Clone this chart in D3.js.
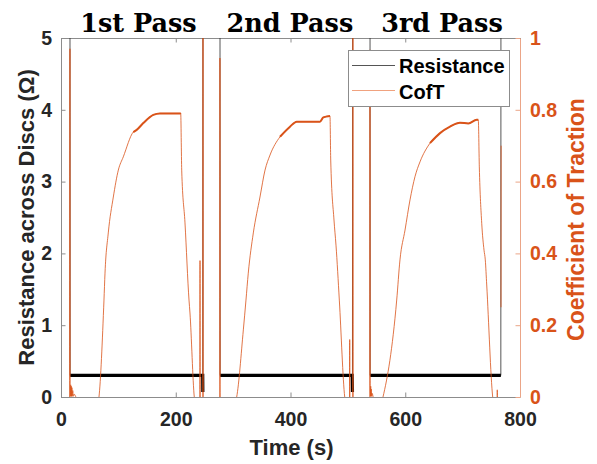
<!DOCTYPE html>
<html>
<head>
<meta charset="utf-8">
<script src="https://cdn.jsdelivr.net/npm/d3@7"></script>
<style>
    body { margin: 0; background: #ffffff; }
    svg { display: block; font-family: "Liberation Sans", Arial, sans-serif; }
    .tick text { font-weight: bold; font-size: 19.5px; }
    .label { font-weight: bold; font-size: 22px; }
    .title { font-family: "DejaVu Serif", serif; font-weight: bold; font-size: 25.5px; }
    .legend text { font-weight: bold; font-size: 20px; }
</style>
</head>
<body>
<svg id="chart" width="597" height="464"></svg>
<script>
// resistance across the discs (ohm), values above 5 run off the top
const resTime = [15.5, 15.9, 247.0, 247.2, 247.5, 277.0, 277.3, 507.5, 508.0, 508.5, 538.5, 538.8, 766.6, 766.9];
const resValue = [9, 0.3, 0.3, 0.07, 9, 9, 0.3, 0.3, 0.07, 9, 9, 0.3, 0.3, 9];

// coefficient of traction, null = no sample
const cofTime = [
    15.0, 15.6, 15.9, 16.4, 16.9, 17.4, 17.9, 18.4, 19.0, 19.6, 20.5, 21.5, 23.0, 26.0, 30.0, 45.0, 62.0,
    66.2, 74.9, 76.7, 82.4, 91.2, 99.9, 108.6, 126.0, 131.9, 143.4, 160.9, 172.5, 207.4, 208.6,
    210.4, 216.1, 223.1, 224.8, 232.3, 236.0, 242.0, 242.3, 242.6, 247.2, 247.5, 247.8,
    276.8, 277.0, 277.3, 300.0,
    306.2, 317.8, 322.4, 326.4, 335.2, 346.8, 355.6, 364.3, 381.7, 399.1, 410.8, 451.4, 457.2, 468.8,
    470.1, 475.8, 479.3, 485.1, 494.5, 498.0, 503.0, 503.2, 503.4, 508.5, 508.8, 509.1,
    538.2, 538.5, 538.8, 539.3, 539.8, 540.3, 540.8, 541.5, 542.5, 544.0, 548.0, 556.0,
    561.2, 585.1, 590.8, 599.6, 608.3, 617.0, 625.7, 643.1, 660.6, 678.0, 695.4, 709.9, 724.5, 727.3,
    729.1, 733.3, 737.3, 739.5, 742.0, 752.4, 755.0, 760.2, 760.4, 760.6, 766.5,
    766.7, 766.9, 767.1
];
const cofValue = [
    -0.05, 0.97, 0.035, 0.002, 0.034, 0.002, 0.03, 0.002, 0.026, 0.002, 0.018, 0.002, 0.008, 0.0, -0.01, -0.03, -0.03,
    0.0, 0.27, 0.345, 0.457, 0.557, 0.632, 0.669, 0.738, 0.744, 0.763, 0.786, 0.79, 0.79, 0.791,
    0.632, 0.485, 0.27, 0.234, 0.0, -0.03, -0.03, 0.38, -0.03, -0.03, 1.2, -0.1,
    -0.1, 0.944, -0.03, -0.03,
    0.0, 0.187, 0.27, 0.345, 0.457, 0.557, 0.632, 0.674, 0.725, 0.753, 0.767, 0.767, 0.779, 0.783,
    0.66, 0.493, 0.423, 0.27, 0.0, -0.03, -0.03, 0.16, -0.03, -0.03, 1.2, -0.1,
    -0.1, 0.967, 0.033, 0.002, 0.03, 0.002, 0.022, 0.002, 0.01, 0.0, -0.02, -0.03,
    0.0, 0.27, 0.382, 0.465, 0.549, 0.614, 0.655, 0.707, 0.735, 0.753, 0.764, 0.762, 0.772, 0.772,
    0.641, 0.484, 0.409, 0.382, 0.312, 0.0, -0.03, -0.03, 0.02, -0.03, -0.03,
    null, 0.25, 0.70
];

const seriesNames = ["Resistance", "CofT"];
const passLabels = ["1st Pass", "2nd Pass", "3rd Pass"];
const passLabelTime = [135, 399, 664];
const timeTicks = [0, 200, 400, 600, 800];
const resTicks = [0, 1, 2, 3, 4, 5];
const cofTicks = [0, 0.2, 0.4, 0.6, 0.8, 1];

const attr = {
    plot: { left: 61, top: 38, right: 520, bottom: 397 },
    tick: 4.5,
    black: "#000000",
    axisGrey: "#8c8c8c",
    orange: "#D95319"
};

const translate = function(a, b) {
    return "translate(" + a + ", " + b + ")";
};

const svg = d3.select("#chart");
const p = attr.plot;

const x = d3.scaleLinear().domain([0, 800]).range([p.left, p.right]);
const yRes = d3.scaleLinear().domain([0, 5]).range([p.bottom, p.top]);
const yCof = d3.scaleLinear().domain([0, 1]).range([p.bottom, p.top]);

const resData = resTime.map((t, i) => ({ t: t, v: resValue[i] }));
const cofData = cofTime.map((t, i) => ({ t: t, v: cofValue[i] }));

svg.append("clipPath")
    .attr("id", "clip")
    .append("rect")
    .attr("x", p.left)
    .attr("y", p.top)
    .attr("width", p.right - p.left)
    .attr("height", p.bottom - p.top);

// box top line
svg.append("line")
    .attr("x1", p.left)
    .attr("x2", p.right)
    .attr("y1", p.top + 0.5)
    .attr("y2", p.top + 0.5)
    .style("stroke", attr.axisGrey);

const plot = svg.append("g").attr("clip-path", "url(#clip)");

const resLine = d3.line().x(d => x(d.t)).y(d => yRes(d.v));

plot.append("path")
    .attr("d", resLine(resData))
    .style("fill", "none")
    .style("stroke", "#2a2a2a")
    .style("stroke-width", 0.8);

// noisy plateau reads as a thick band
plot.append("path")
    .attr("d", resLine.defined(d => d.v < 1)(resData))
    .style("fill", "none")
    .style("stroke", attr.black)
    .style("stroke-width", 3.2);

const cofLine = d3
    .line()
    .defined(d => d.v !== null)
    .curve(d3.curveMonotoneX)
    .x(d => x(d.t))
    .y(d => yCof(d.v));

plot.append("path")
    .attr("d", cofLine(cofData))
    .style("fill", "none")
    .style("stroke", attr.orange)
    .style("stroke-opacity", 0.8)
    .style("stroke-width", 1)
    .style("stroke-linejoin", "round");

// the slow, noisy top of each pass looks heavier
plot.append("path")
    .attr("d", cofLine.defined(d => d.v !== null && d.v > 0.7 && d.v < 0.85)(cofData))
    .style("fill", "none")
    .style("stroke", attr.orange)
    .style("stroke-width", 2)
    .style("stroke-linejoin", "round");

// axes
const styleAxis = function(g, color, textColor) {
    g.select(".domain").style("stroke", color);
    g.selectAll(".tick line").style("stroke", color);
    g.selectAll(".tick text").style("fill", textColor);
};

const bottomAxis = svg
    .append("g")
    .attr("transform", translate(0, p.bottom))
    .call(
        d3.axisBottom(x)
            .tickValues(timeTicks)
            .tickSize(-attr.tick)
            .tickSizeOuter(0)
            .tickPadding(15)
            .tickFormat(d3.format("d"))
    );
styleAxis(bottomAxis, attr.axisGrey, "#262626");
bottomAxis.selectAll(".tick text").attr("dy", "0.71em");

const topAxis = svg
    .append("g")
    .attr("transform", translate(0, p.top))
    .call(d3.axisTop(x).tickValues(timeTicks).tickSize(-attr.tick).tickSizeOuter(0).tickFormat(""));
styleAxis(topAxis, attr.axisGrey, "none");
topAxis.select(".domain").remove();

const leftAxis = svg
    .append("g")
    .attr("transform", translate(p.left, 0))
    .call(
        d3.axisLeft(yRes)
            .tickValues(resTicks)
            .tickSize(-attr.tick)
            .tickSizeOuter(0)
            .tickPadding(9)
            .tickFormat(d3.format("d"))
    );
styleAxis(leftAxis, attr.axisGrey, "#262626");

const rightAxis = svg
    .append("g")
    .attr("transform", translate(p.right, 0))
    .call(
        d3.axisRight(yCof)
            .tickValues(cofTicks)
            .tickSize(-attr.tick)
            .tickSizeOuter(0)
            .tickPadding(10)
            .tickFormat(d => (d === 0 || d === 1 ? d3.format("d")(d) : d3.format(".1f")(d)))
    );
styleAxis(rightAxis, "#eba587", attr.orange);

// axis labels
svg.append("text")
    .attr("class", "label")
    .attr("transform", translate((p.left + p.right) / 2 + 1, 455))
    .attr("text-anchor", "middle")
    .style("fill", "#262626")
    .text("Time (s)");

svg.append("text")
    .attr("class", "label")
    .attr("transform", translate(33.5, (p.top + p.bottom) / 2) + " rotate(-90)")
    .attr("text-anchor", "middle")
    .style("fill", "#262626")
    .text("Resistance across Discs (\u03A9)");

svg.append("text")
    .attr("class", "label")
    .attr("transform", translate(583.5, (p.top + p.bottom) / 2 + 2) + " rotate(-90)")
    .attr("text-anchor", "middle")
    .style("fill", attr.orange)
    .style("font-size", "23px")
    .text("Coefficient of Traction");

// pass titles
svg.selectAll(".title")
    .data(passLabels)
    .enter()
    .append("text")
    .attr("class", "title")
    .attr("x", (d, i) => x(passLabelTime[i]))
    .attr("y", 31.5)
    .attr("text-anchor", "middle")
    .style("fill", "#000000")
    .text(d => d);

// legend
const legend = svg.append("g").attr("class", "legend").attr("transform", translate(348, 50));

legend.append("rect")
    .attr("x", 0.5)
    .attr("y", 0.5)
    .attr("width", 161)
    .attr("height", 56)
    .style("fill", "#ffffff")
    .style("stroke", "#8c8c8c");

const legendColors = ["#555555", "#f0a27f"];

legend.selectAll("line")
    .data(seriesNames)
    .enter()
    .append("line")
    .attr("x1", 4)
    .attr("x2", 47)
    .attr("y1", (d, i) => 15.5 + i * 25)
    .attr("y2", (d, i) => 15.5 + i * 25)
    .style("stroke", (d, i) => legendColors[i])
    .style("stroke-width", 1);

legend.selectAll("text")
    .data(seriesNames)
    .enter()
    .append("text")
    .attr("x", 51)
    .attr("y", (d, i) => 22.5 + i * 26.5)
    .style("fill", "#000000")
    .text(d => d);
</script>
</body>
</html>
